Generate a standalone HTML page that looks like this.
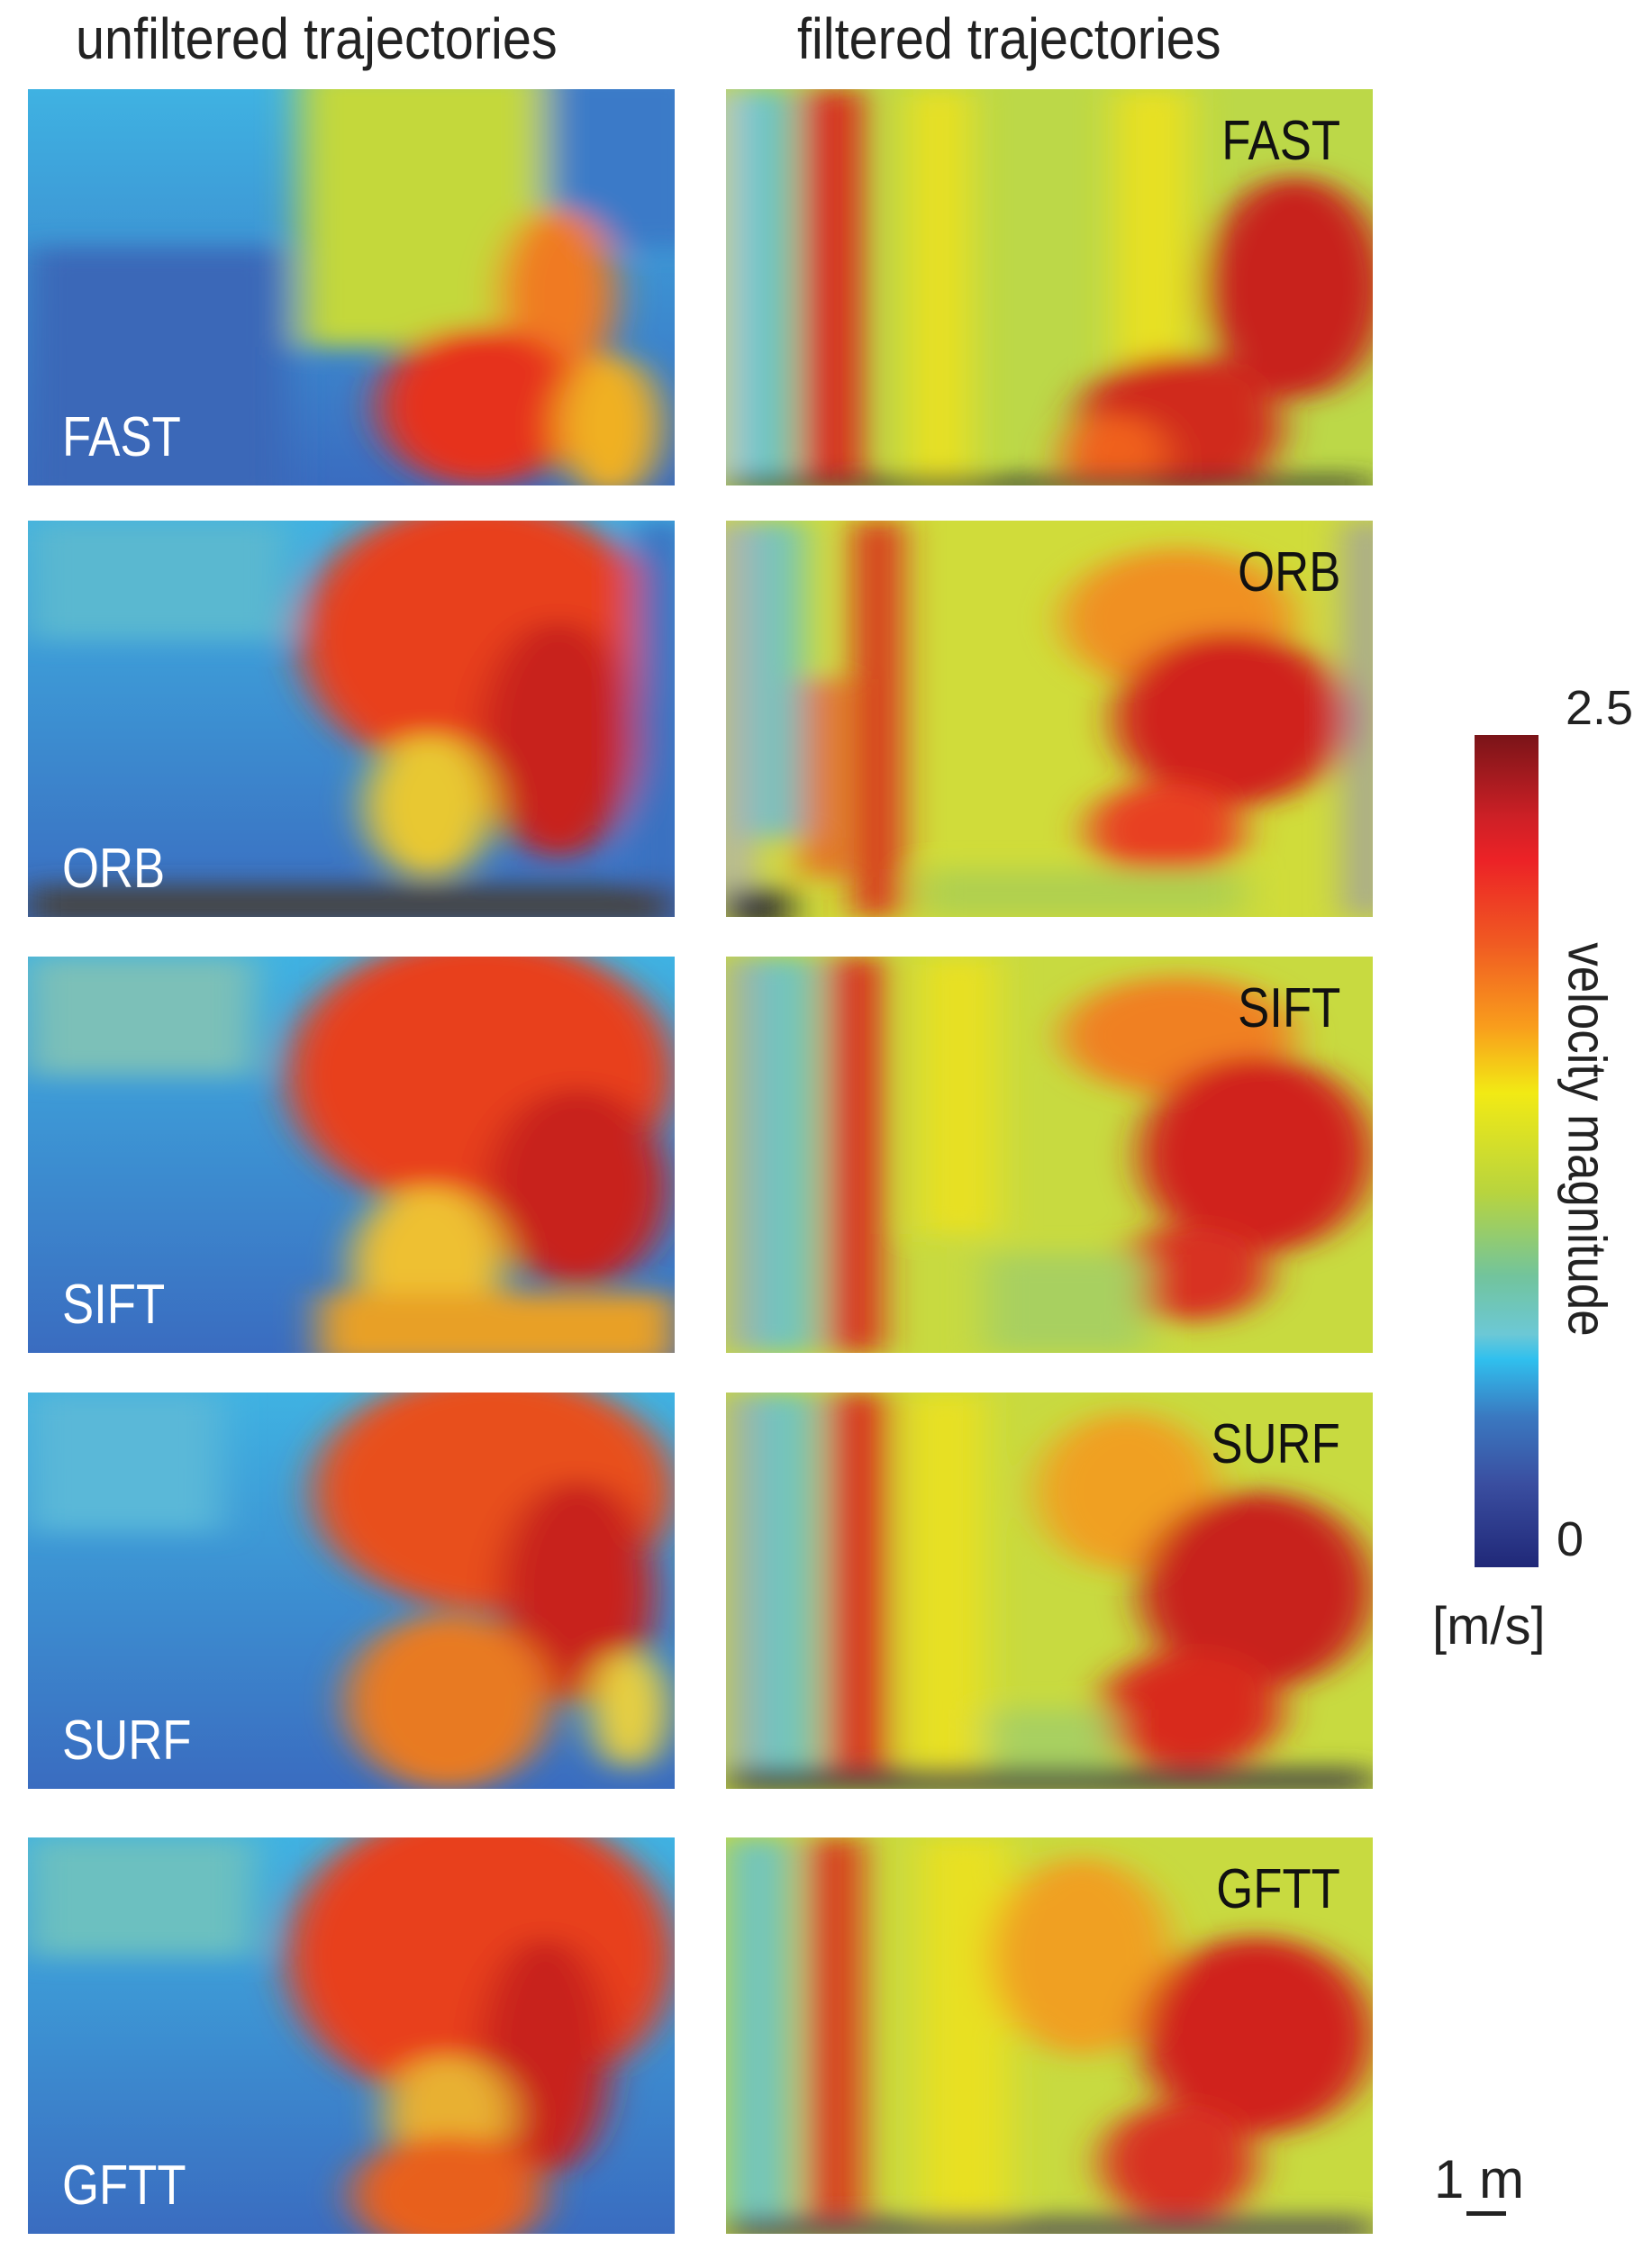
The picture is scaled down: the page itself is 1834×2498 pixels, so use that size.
<!DOCTYPE html>
<html><head><meta charset="utf-8"><style>
body{margin:0;background:#fff;width:1834px;height:2498px;position:relative;overflow:hidden;font-family:"Liberation Sans",sans-serif}
.t{position:absolute;font-size:64px;color:#222;transform:scaleX(0.9);transform-origin:left top;white-space:nowrap}
.p{position:absolute;width:718px;height:440px;overflow:hidden}
.p svg{width:100%;height:100%;display:block}
.lw{position:absolute;left:38px;bottom:18px;color:#fff;font-size:62px;transform:scaleX(0.85);transform-origin:left bottom}
.lb{position:absolute;right:36px;top:22px;color:#111;font-size:62px;transform:scaleX(0.85);transform-origin:right top}
</style></head><body>
<svg width="0" height="0" style="position:absolute">
<defs>
<filter id="b" x="-20%" y="-20%" width="140%" height="140%"><feGaussianBlur stdDeviation="3"/></filter>
<linearGradient id="lg" x1="0" y1="0" x2="0" y2="1"><stop offset="0" stop-color="#3fb2e2"/><stop offset="1" stop-color="#3a6cc0"/></linearGradient>
</defs></svg>

<div class="t" style="left:84px;top:6px">unfiltered trajectories</div>
<div class="t" style="left:885px;top:6px">filtered trajectories</div>

<div class="p" style="left:31px;top:99px"><svg viewBox="0 0 100 100" preserveAspectRatio="none">
<rect width="100" height="100" fill="url(#lg)"/>
<g filter="url(#b)">
<rect x="42" y="-5" width="45" height="70" fill="#c4d83a"/>
<rect x="80" y="-5" width="25" height="45" fill="#3a7ac8"/>
<ellipse cx="82" cy="52" rx="9" ry="22" fill="#f07a20"/>
<ellipse cx="70" cy="80" rx="16" ry="20" fill="#e6301e"/>
<ellipse cx="90" cy="85" rx="8" ry="18" fill="#f0b020"/>
<rect x="0" y="40" width="40" height="65" fill="#3a68b8"/>
</g></svg><div class="lw">FAST</div></div>

<div class="p" style="left:31px;top:578px"><svg viewBox="0 0 100 100" preserveAspectRatio="none">
<rect width="100" height="100" fill="url(#lg)"/>
<g filter="url(#b)">
<rect x="0" y="0" width="40" height="30" fill="#5ab8d0"/>
<ellipse cx="70" cy="30" rx="28" ry="35" fill="#e8401e"/>
<ellipse cx="82" cy="55" rx="12" ry="30" fill="#c8201c"/>
<ellipse cx="62" cy="72" rx="10" ry="18" fill="#e8c830"/>
<rect x="94" y="0" width="8" height="100" fill="#3a70c0"/>
<rect x="0" y="92" width="100" height="10" fill="#444"/>
</g></svg><div class="lw">ORB</div></div>

<div class="p" style="left:31px;top:1062px"><svg viewBox="0 0 100 100" preserveAspectRatio="none">
<rect width="100" height="100" fill="url(#lg)"/>
<g filter="url(#b)">
<rect x="0" y="0" width="35" height="30" fill="#7cc0b8"/>
<ellipse cx="70" cy="30" rx="30" ry="35" fill="#e8401e"/>
<ellipse cx="85" cy="58" rx="14" ry="25" fill="#c8201c"/>
<ellipse cx="62" cy="78" rx="12" ry="20" fill="#eec030"/>
<rect x="45" y="85" width="55" height="18" fill="#e8a028"/>
</g></svg><div class="lw">SIFT</div></div>

<div class="p" style="left:31px;top:1546px"><svg viewBox="0 0 100 100" preserveAspectRatio="none">
<rect width="100" height="100" fill="url(#lg)"/>
<g filter="url(#b)">
<rect x="0" y="0" width="30" height="35" fill="#5ab8d8"/>
<ellipse cx="72" cy="25" rx="28" ry="30" fill="#e8501e"/>
<ellipse cx="85" cy="50" rx="12" ry="28" fill="#c8201c"/>
<ellipse cx="65" cy="78" rx="16" ry="22" fill="#e87a20"/>
<ellipse cx="93" cy="80" rx="6" ry="15" fill="#e8d040"/>
</g></svg><div class="lw">SURF</div></div>

<div class="p" style="left:31px;top:2040px"><svg viewBox="0 0 100 100" preserveAspectRatio="none">
<rect width="100" height="100" fill="url(#lg)"/>
<g filter="url(#b)">
<rect x="0" y="0" width="35" height="30" fill="#6cc0c0"/>
<ellipse cx="70" cy="30" rx="30" ry="38" fill="#e8401e"/>
<ellipse cx="80" cy="55" rx="10" ry="30" fill="#c8201c"/>
<ellipse cx="65" cy="70" rx="10" ry="15" fill="#e8b030"/>
<ellipse cx="65" cy="90" rx="15" ry="15" fill="#e8601e"/>
</g></svg><div class="lw">GFTT</div></div>

<div class="p" style="left:806px;top:99px"><svg viewBox="0 0 100 100" preserveAspectRatio="none">
<rect width="100" height="100" fill="#bcd848"/>
<g filter="url(#b)">
<rect x="-2" y="0" width="4" height="100" fill="#c8c8c8"/>
<rect x="2" y="0" width="8" height="100" fill="#60c4cc"/>
<rect x="12" y="0" width="9" height="100" fill="#d8281c"/>
<rect x="28" y="0" width="10" height="100" fill="#e8e020"/>
<rect x="60" y="0" width="12" height="70" fill="#e8e020"/>
<ellipse cx="88" cy="50" rx="14" ry="28" fill="#c8201c"/>
<ellipse cx="70" cy="85" rx="16" ry="18" fill="#d02a1c"/>
<ellipse cx="60" cy="92" rx="8" ry="10" fill="#f0601e"/>
<rect x="0" y="98" width="100" height="4" fill="#333"/>
</g></svg><div class="lb">FAST</div></div>

<div class="p" style="left:806px;top:578px"><svg viewBox="0 0 100 100" preserveAspectRatio="none">
<rect width="100" height="100" fill="#d0dc3a"/>
<g filter="url(#b)">
<rect x="-2" y="0" width="6" height="100" fill="#b0b0b0"/>
<rect x="4" y="0" width="8" height="80" fill="#70c4c0"/>
<rect x="20" y="0" width="7" height="100" fill="#d8281c"/>
<rect x="12" y="40" width="6" height="50" fill="#e86020"/>
<ellipse cx="70" cy="25" rx="18" ry="18" fill="#f09020"/>
<ellipse cx="78" cy="50" rx="18" ry="22" fill="#d0241c"/>
<ellipse cx="68" cy="78" rx="12" ry="12" fill="#e84020"/>
<rect x="30" y="88" width="50" height="12" fill="#b0d050"/>
<rect x="96" y="0" width="6" height="100" fill="#a0a0a0"/>
<rect x="0" y="93" width="10" height="10" fill="#333"/>
</g></svg><div class="lb">ORB</div></div>

<div class="p" style="left:806px;top:1062px"><svg viewBox="0 0 100 100" preserveAspectRatio="none">
<rect width="100" height="100" fill="#c8da40"/>
<g filter="url(#b)">
<rect x="0" y="0" width="5" height="100" fill="#a8a8a8"/>
<rect x="4" y="0" width="10" height="100" fill="#70c4c0"/>
<rect x="16" y="0" width="8" height="100" fill="#d8281c"/>
<rect x="30" y="0" width="12" height="70" fill="#e8e020"/>
<ellipse cx="70" cy="20" rx="18" ry="15" fill="#f08020"/>
<ellipse cx="82" cy="50" rx="18" ry="25" fill="#d0241c"/>
<ellipse cx="72" cy="80" rx="12" ry="12" fill="#d83020"/>
<rect x="40" y="75" width="25" height="25" fill="#a8d060"/>
</g></svg><div class="lb">SIFT</div></div>

<div class="p" style="left:806px;top:1546px"><svg viewBox="0 0 100 100" preserveAspectRatio="none">
<rect width="100" height="100" fill="#c8da40"/>
<g filter="url(#b)">
<rect x="0" y="0" width="5" height="100" fill="#a8a8a8"/>
<rect x="4" y="0" width="10" height="100" fill="#70c4c0"/>
<rect x="16" y="0" width="9" height="100" fill="#d8301c"/>
<rect x="28" y="0" width="12" height="100" fill="#e8e020"/>
<ellipse cx="62" cy="25" rx="14" ry="20" fill="#f0a020"/>
<ellipse cx="82" cy="50" rx="18" ry="25" fill="#c8201c"/>
<ellipse cx="72" cy="80" rx="14" ry="15" fill="#d82c1c"/>
<rect x="40" y="80" width="20" height="20" fill="#a8d060"/>
<rect x="0" y="95" width="100" height="6" fill="#444"/>
</g></svg><div class="lb">SURF</div></div>

<div class="p" style="left:806px;top:2040px"><svg viewBox="0 0 100 100" preserveAspectRatio="none">
<rect width="100" height="100" fill="#c8da40"/>
<g filter="url(#b)">
<rect x="0" y="0" width="10" height="100" fill="#70c4c0"/>
<rect x="13" y="0" width="8" height="100" fill="#d8301c"/>
<rect x="30" y="0" width="14" height="100" fill="#e8e020"/>
<ellipse cx="55" cy="30" rx="14" ry="25" fill="#f0a020"/>
<ellipse cx="82" cy="50" rx="18" ry="25" fill="#d0241c"/>
<ellipse cx="70" cy="82" rx="12" ry="15" fill="#d83020"/>
<rect x="0" y="96" width="100" height="6" fill="#555"/>
</g></svg><div class="lb">GFTT</div></div>

<div style="position:absolute;left:1637px;top:816px;width:71px;height:924px;background:linear-gradient(to bottom,#7a1418 0%,#ce2026 10%,#ec2226 15%,#f05a22 25%,#f99d1c 35%,#f2ea14 43%,#b8d43e 55%,#72c49c 65%,#6cc8d6 72%,#30c0ee 75%,#3a78c0 82%,#3a4ea0 90%,#202878 100%)"></div>
<div style="position:absolute;left:1738px;top:755px;font-size:54px;color:#222">2.5</div>
<div style="position:absolute;left:1728px;top:1678px;font-size:54px;color:#222">0</div>
<div style="position:absolute;left:1590px;top:1772px;font-size:58px;color:#222">[m/s]</div>
<div style="position:absolute;left:1762px;top:1265px;font-size:60px;color:#222;white-space:nowrap;transform:translate(-50%,-50%) rotate(90deg) scaleX(0.88)">velocity magnitude</div>
<div style="position:absolute;left:1592px;top:2385px;font-size:60px;color:#222">1 m</div>
<div style="position:absolute;left:1628px;top:2455px;width:44px;height:5px;background:#222"></div>
</body></html>
